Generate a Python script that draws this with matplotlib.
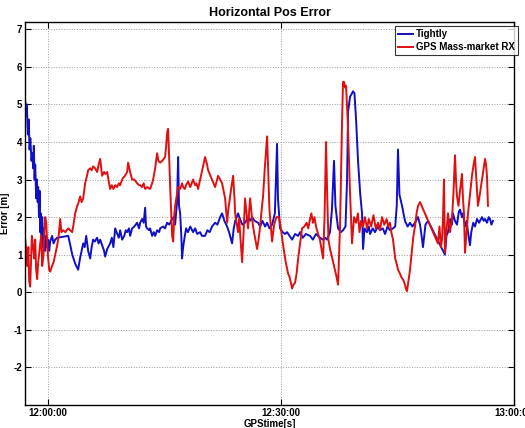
import matplotlib
matplotlib.use("Agg")
import matplotlib.pyplot as plt

plt.rcParams['font.family'] = ['Liberation Sans Narrow', 'Liberation Sans', 'DejaVu Sans']
plt.rcParams['axes.unicode_minus'] = False

# time in minutes after 12:00:00, error in metres
tightly_t = [-2.96, -2.85, -2.75, -2.62, -2.5, -2.4, -2.3, -2.15, -2.05, -1.93, -1.85, -1.75, -1.67,
             -1.55, -1.45, -1.35, -1.29, -1.18, -1.1, -1.03, -0.95, -0.85, -0.77, -0.65, -0.55, -0.39,
             -0.25, -0.1, 0.0, 0.13, 0.26, 0.5, 0.7, 0.9, 1.16, 2.58, 2.8, 3.1, 3.5, 3.86, 4.1, 4.3,
             4.51, 4.7, 4.9, 5.15, 5.41, 5.6, 5.79, 6.0, 6.3, 6.5, 6.7, 6.95, 7.2, 7.34, 7.6, 7.98,
             8.2, 8.4, 8.63, 8.9, 9.1, 9.27, 9.53, 9.8, 10.0, 10.17, 10.4, 10.56, 10.81, 11.1, 11.46,
             11.7, 11.85, 12.1, 12.3, 12.49, 12.6, 12.75, 13.0, 13.13, 13.39, 13.6, 13.78, 14.03,
             14.3, 14.42, 14.8, 15.06, 15.32, 15.6, 15.97, 16.2, 16.35, 16.6, 16.74, 16.85, 17.0,
             17.15, 17.25, 17.38, 17.6, 17.77, 18.0, 18.3, 18.67, 18.93, 19.2, 19.57, 19.8, 20.21,
             20.5, 20.8, 21.11, 21.5, 21.8, 22.15, 22.4, 22.7, 23.05, 23.3, 23.69, 23.9, 24.1, 24.46,
             24.7, 25.0, 25.36, 25.75, 26.01, 26.27, 26.6, 27.04, 27.3, 27.6, 27.94, 28.2, 28.5,
             28.84, 29.2, 29.48, 29.6, 29.87, 30.2, 30.51, 30.77, 31.1, 31.42, 31.8, 32.2, 32.45,
             32.8, 33.2, 33.73, 34.1, 34.5, 35.02, 35.4, 35.66, 35.92, 36.3, 36.55, 36.82, 37.0,
             37.34, 37.7, 37.98, 38.3, 38.5, 38.63, 38.88, 39.14, 39.27, 39.45, 39.66, 39.91, 40.2,
             40.43, 40.56, 40.75, 41.07, 41.3, 41.46, 41.8, 42.1, 42.45, 42.74, 43.1, 43.4, 43.7,
             44.03, 44.42, 44.7, 44.9, 45.06, 45.25, 45.58, 45.96, 46.3, 46.61, 46.9, 47.25, 47.64,
             47.9, 48.1, 48.28, 48.6, 48.93, 51.11, 51.3, 51.5, 51.76, 52.01, 52.14, 52.4, 52.66,
             52.9, 53.05, 53.3, 53.43, 53.69, 53.9, 54.08, 54.33, 54.5, 54.75, 54.98, 55.24, 55.5,
             55.88, 56.1, 56.27, 56.52, 56.75, 56.91, 57.1, 57.29]
tightly_err = [5.1, 4.7, 5.0, 4.2, 4.6, 3.8, 4.1, 3.5, 3.7, 3.3, 3.9, 3.0, 3.4,
               2.5, 3.0, 2.4, 2.8, 2.0, 2.7, 1.6, 2.1, 1.4, 2.0, 1.2, 1.7, 1.1,
               1.5, 1.2, 1.4, 1.1, 1.35, 1.5, 1.3, 1.4, 1.45, 1.5, 1.3, 1.0, 0.75, 0.6, 0.9, 1.1,
               1.3, 1.2, 1.5, 1.1, 0.9, 1.2, 1.4, 1.35, 1.45, 1.3, 1.4, 1.25, 1.1, 0.95, 1.15, 1.3,
               1.45, 1.2, 1.7, 1.55, 1.45, 1.65, 1.4, 1.5, 1.65, 1.6, 1.7, 1.5, 1.7, 1.75, 1.85,
               1.7, 1.85, 1.95, 1.85, 2.25, 1.75, 1.7, 1.65, 1.7, 1.5, 1.6, 1.5, 1.65,
               1.6, 1.7, 1.75, 1.7, 1.85, 1.8, 1.95, 2.0, 1.8, 2.4, 3.6, 2.3, 2.1,
               1.5, 0.9, 1.2, 1.5, 1.7, 1.6, 1.75, 1.6, 1.7, 1.55, 1.6, 1.5, 1.5,
               1.65, 1.6, 1.75, 1.85, 1.8, 2.0, 2.1, 1.9, 1.75, 1.6, 1.3, 1.7, 1.9, 2.1,
               1.95, 1.8, 1.85, 2.0, 1.9, 2.0, 1.9, 1.85, 1.75, 1.9, 1.75, 1.85, 1.7,
               1.8, 2.1, 3.95, 2.5, 1.7, 1.6, 1.55, 1.6, 1.5, 1.4, 1.55, 1.5, 1.6,
               1.45, 1.55, 1.5, 1.4, 1.55, 1.45, 1.4, 1.45, 1.4, 1.6, 2.2, 3.5, 2.3,
               1.7, 1.6, 1.65, 1.75, 3.0, 4.8, 5.2, 5.3, 5.35, 5.3, 4.6, 3.5, 2.6,
               2.1, 1.15, 1.7, 1.6, 1.75, 1.55, 1.7, 1.6, 1.75, 1.65, 1.7, 1.55, 1.75,
               1.65, 1.7, 1.75, 2.3, 3.8, 2.6, 2.3, 1.9, 1.75, 1.85, 1.75, 1.85, 2.0,
               1.8, 1.5, 1.2, 1.8, 1.9, 1.0, 1.5, 1.6, 1.95, 1.8, 2.1, 1.9, 1.8,
               2.15, 2.2, 2.0, 2.1, 1.75, 1.9, 1.6, 1.25, 1.6, 1.85, 1.75, 1.95, 1.85,
               2.0, 1.9, 1.95, 1.85, 2.0, 1.95, 1.8, 1.9]

gps_t = [-2.96, -2.8, -2.7, -2.55, -2.45, -2.32, -2.2, -2.1, -1.93, -1.8, -1.67, -1.55, -1.42,
         -1.29, -1.15, -1.03, -0.9, -0.77, -0.6, -0.5, -0.39, -0.25, -0.1, 0.0, 0.13, 0.26, 0.5,
         0.7, 0.9, 1.16, 1.35, 1.55, 1.7, 1.93, 2.19, 2.58, 2.83, 3.09, 3.22, 3.48, 3.73, 3.86,
         4.12, 4.3, 4.51, 4.76, 5.0, 5.15, 5.41, 5.6, 5.79, 6.05, 6.31, 6.5, 6.7, 6.95, 7.2, 7.34,
         7.6, 7.8, 7.98, 8.2, 8.4, 8.63, 8.88, 9.1, 9.27, 9.53, 9.66, 9.9, 10.17, 10.3, 10.56,
         10.81, 11.1, 11.46, 11.7, 11.85, 12.1, 12.3, 12.49, 12.75, 13.13, 13.39, 13.52, 13.78,
         14.03, 14.2, 14.42, 14.7, 15.06, 15.2, 15.32, 15.45, 15.6, 15.75, 15.97, 16.1, 16.25,
         16.35, 16.55, 16.74, 17.0, 17.25, 17.38, 17.6, 17.77, 18.02, 18.3, 18.67, 18.93, 19.1,
         19.31, 19.57, 19.83, 20.0, 20.21, 20.47, 20.6, 20.9, 21.11, 21.3, 21.5, 21.7, 21.89,
         22.15, 22.4, 22.6, 22.79, 23.05, 23.2, 23.43, 23.6, 23.82, 24.0, 24.08, 24.3, 24.46,
         24.6, 24.72, 24.85, 24.98, 25.15, 25.36, 25.55, 25.75, 25.9, 26.01, 26.2, 26.39, 26.6,
         26.91, 27.1, 27.3, 27.5, 27.68, 27.9, 28.2, 28.35, 28.5, 28.84, 29.1, 29.4, 29.7, 29.9,
         30.1, 30.3, 30.6, 30.9, 31.1, 31.42, 31.6, 31.8, 32.0, 32.2, 32.45, 32.7, 33.0, 33.3,
         33.5, 33.73, 33.9, 34.1, 34.3, 34.5, 34.7, 35.0, 35.2, 35.41, 35.6, 35.79, 35.95, 36.1,
         36.31, 36.6, 36.82, 37.1, 37.34, 37.6, 37.85, 37.98, 38.11, 38.25, 38.37, 38.6, 38.88,
         39.14, 39.4, 39.66, 39.9, 40.1, 40.3, 40.56, 40.8, 41.07, 41.3, 41.6, 41.9, 42.2, 42.5,
         42.74, 43.0, 43.3, 43.6, 43.8, 44.03, 44.2, 44.42, 44.7, 44.9, 45.06, 45.3, 45.5, 45.8,
         45.96, 46.09, 46.22, 46.4, 46.61, 46.87, 47.05, 47.25, 47.45, 47.64, 47.9, 50.2, 50.4,
         50.6, 50.73, 50.86, 50.98, 51.11, 51.24, 51.5, 51.76, 52.01, 52.2, 52.4, 52.55, 52.66,
         52.85, 53.05, 53.3, 53.43, 53.56, 53.69, 53.9, 54.08, 54.33, 54.59, 54.8, 54.98, 55.15,
         55.36, 55.6, 55.88, 56.1, 56.27, 56.4, 56.52, 56.6, 56.65]
gps_err = [1.4, 1.1, 0.7, 1.2, 0.3, 0.15, 0.9, 1.5, 1.2, 0.9, 1.4, 0.6, 0.35,
           0.8, 1.05, 1.3, 1.5, 0.7, 1.0, 1.6, 2.0, 1.85, 1.2, 0.9, 0.6, 0.55, 0.7,
           0.8, 1.0, 1.25, 1.5, 1.95, 1.6, 1.65, 1.6, 1.7, 1.65, 1.6, 1.75, 2.1, 2.3, 2.35,
           2.55, 2.4, 2.5, 2.9, 3.1, 3.25, 3.3, 3.25, 3.35, 3.3, 3.2, 3.4, 3.55, 3.1, 3.2, 3.15,
           3.2, 2.95, 2.75, 2.85, 2.75, 2.85, 2.8, 2.9, 2.85, 3.0, 3.05, 3.1, 3.2, 3.45, 3.2,
           3.0, 3.0, 2.9, 2.85, 2.85, 2.8, 2.9, 2.75, 2.8, 2.75, 2.9, 3.0, 3.3,
           3.7, 3.5, 3.45, 3.5, 3.6, 3.9, 4.25, 4.35, 3.5, 2.6, 1.5, 1.35, 2.1,
           2.3, 2.55, 2.8, 2.75, 2.9, 2.8, 2.75, 2.85, 2.95, 2.8, 3.0, 2.85, 2.9,
           2.75, 3.0, 3.25, 3.4, 3.6, 3.4, 3.25, 3.1, 3.0, 2.9, 2.8, 2.95, 3.1,
           3.0, 2.9, 2.7, 2.5, 1.85, 2.2, 2.55, 2.8, 3.1, 2.5, 2.1, 1.8, 1.6,
           1.95, 1.6, 1.2, 0.8, 1.5, 2.5, 2.1, 1.7, 2.2, 2.5, 2.1, 1.75, 1.5,
           1.15, 1.4, 1.75, 2.2, 2.55, 3.3, 4.15, 3.2, 2.2, 1.35, 1.8, 2.0, 2.0, 1.8,
           1.5, 1.2, 0.8, 0.5, 0.4, 0.1, 0.2, 0.25, 0.5, 0.9, 1.3, 1.7, 1.75, 1.85,
           1.7, 1.95, 2.1, 1.85, 2.0, 1.75, 1.6, 1.4, 1.15, 0.9, 2.0, 4.0, 2.5, 1.4,
           1.15, 0.9, 0.7, 0.45, 0.2, 1.8, 4.5, 5.6, 5.6, 5.45, 5.5, 4.5, 2.65,
           1.3, 2.0, 1.85, 2.1, 1.6, 1.9, 1.75, 2.0, 1.7, 1.95, 1.75, 2.05, 1.7, 1.85,
           1.65, 2.0, 1.8, 1.95, 1.75, 1.85, 1.6, 1.4, 0.9, 0.75, 0.6, 0.5, 0.4, 0.3,
           0.2, 0.08, 0.03, 0.3, 0.6, 1.15, 1.5, 1.75, 2.1, 2.3, 2.4, 1.3, 1.75,
           1.2, 1.4, 2.0, 3.0, 1.05, 1.5, 2.1, 1.6, 1.95, 2.6, 3.65, 2.9, 2.55,
           2.3, 2.7, 3.15, 2.5, 2.1, 1.05, 1.6, 2.1, 2.6, 3.1, 3.4, 3.6, 3.0,
           2.3, 2.6, 3.0, 3.3, 3.55, 3.4, 3.1, 2.6, 2.3]

xtick_pos = [0, 30, 60]
xtick_labels = ['12:00:00', '12:30:00', '13:00:00']
ytick_pos = [-2, -1, 0, 1, 2, 3, 4, 5, 6, 7]

fig = plt.figure(figsize=(5.25, 4.28), dpi=100)
ax = fig.add_axes([0.048, 0.054, 0.931, 0.895])

ax.plot(tightly_t, tightly_err, color='#1010c8', lw=1.4, label='Tightly')
ax.plot(gps_t, gps_err, color='#e01010', lw=1.4, label='GPS Mass-market RX')

ax.set_xlim(-2.96, 60)
ax.set_ylim(-3, 7.2)
ax.set_xticks(xtick_pos)
ax.set_xticklabels(xtick_labels)
ax.set_yticks(ytick_pos)
ax.tick_params(direction='in', length=4, width=0.8, labelsize=7, top=True, right=True, pad=2)
for lab in ax.get_xticklabels() + ax.get_yticklabels():
    lab.set_fontweight('bold')
ax.grid(True, linestyle=':', color='#999999', linewidth=0.7)
for s in ax.spines.values():
    s.set_linewidth(1.0)

ax.set_title('Horizontal Pos Error', fontsize=9, fontweight='bold', pad=4)
ax.set_xlabel('GPStime[s]', fontsize=7, fontweight='bold', labelpad=1)
ax.set_ylabel('Error [m]', fontsize=7, fontweight='bold', labelpad=3)

leg = ax.legend(loc='upper right', bbox_to_anchor=(1.008, 0.988), fontsize=7, frameon=True,
                fancybox=False, edgecolor='black', borderpad=0.3, handlelength=1.6,
                handletextpad=0.3, labelspacing=0.3, borderaxespad=0)
leg.get_frame().set_linewidth(0.8)
for t in leg.get_texts():
    t.set_fontweight('bold')

fig.savefig('out.png', dpi=100)
